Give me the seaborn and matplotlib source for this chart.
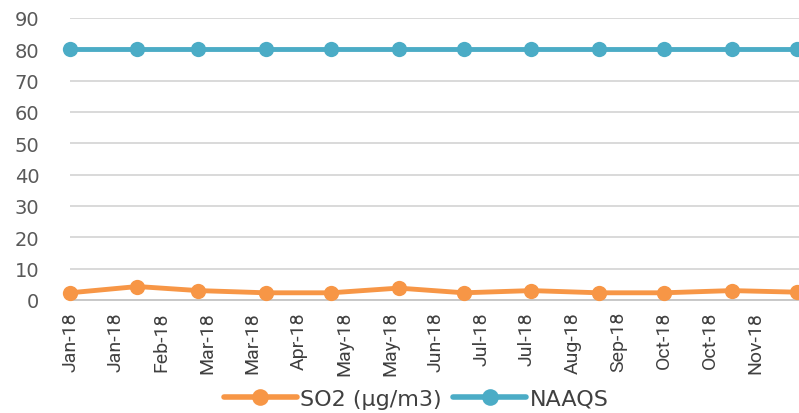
import matplotlib
matplotlib.use("Agg")
import matplotlib.pyplot as plt
import matplotlib.dates as mdates
import seaborn as sns
import pandas as pd

# ---- data ----
months = ["2018-01-01", "2018-02-01", "2018-03-01", "2018-04-01", "2018-05-01", "2018-06-01",
          "2018-07-01", "2018-08-01", "2018-09-01", "2018-10-01", "2018-11-01", "2018-12-01"]
so2 = [2.3, 4.3, 3.0, 2.3, 2.3, 3.8, 2.3, 3.0, 2.3, 2.3, 3.0, 2.5]
naaqs = [80, 80, 80, 80, 80, 80, 80, 80, 80, 80, 80, 80]
series_names = ["SO2 (\u00b5g/m3)", "NAAQS"]
y_ticks = [0, 10, 20, 30, 40, 50, 60, 70, 80, 90]
tick_start = "2018-01-01"
tick_count = 16
tick_step = "21D"

colors = {series_names[0]: "#F79646", series_names[1]: "#4BACC6"}

dates = pd.to_datetime(months)
df = pd.concat([
    pd.DataFrame({"date": dates, "value": so2, "series": series_names[0]}),
    pd.DataFrame({"date": dates, "value": naaqs, "series": series_names[1]}),
])

sns.set_theme(style="white")
plt.rcParams["font.family"] = ["DejaVu Sans"]

fig = plt.figure(figsize=(7.99, 4.14), dpi=100)
ax = fig.add_axes([70 / 799, 1 - 301 / 414, 1 - 70 / 799, (301 - 19) / 414])

sns.lineplot(data=df, x="date", y="value", hue="series", palette=colors,
             marker="o", markersize=11, markeredgewidth=0, linewidth=3.5,
             ax=ax, legend=False, clip_on=False, zorder=3)

ax.set_ylim(0, 90)
ax.set_yticks(y_ticks)
ax.set_xlim(dates[0], dates[-1] + pd.Timedelta(days=1))
ticks = pd.date_range(tick_start, periods=tick_count, freq=tick_step)
ax.set_xticks(ticks)
ax.xaxis.set_major_formatter(mdates.DateFormatter("%b-%y"))
ax.set_xlabel("")
ax.set_ylabel("")

ax.grid(axis="y", color="#D9D9D9", linewidth=1.4)
ax.grid(axis="x", visible=False)
for s in ["top", "right", "left"]:
    ax.spines[s].set_visible(False)
ax.spines["bottom"].set_color("#C8C8C8")
ax.spines["bottom"].set_linewidth(1.4)

ax.tick_params(axis="y", length=0, labelsize=14, labelcolor="#595959", pad=22)
ax.tick_params(axis="x", length=5, width=1.4, color="#C8C8C8", direction="out",
               labelsize=14, labelcolor="#404040", labelrotation=90, pad=3)
for lab in ax.get_xticklabels():
    lab.set_fontfamily(["Roboto", "DejaVu Sans"])

handles = [plt.Line2D([], [], color=colors[n], marker="o", markersize=12,
                      markeredgewidth=0, linewidth=4) for n in series_names]
fig.legend(handles, series_names, loc="center", bbox_to_anchor=(416 / 799, 1 - 400 / 414),
           ncol=2, frameon=False, fontsize=16, handlelength=3.3, columnspacing=0.5,
           handletextpad=0.15, labelcolor="#404040")

fig.savefig("out.png", dpi=100)
